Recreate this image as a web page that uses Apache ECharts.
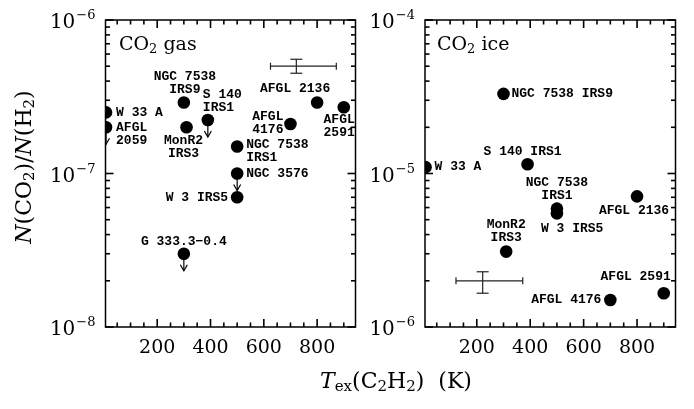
<!DOCTYPE html>
<html><head><meta charset="utf-8">
<script src="https://cdn.jsdelivr.net/npm/echarts@6/dist/echarts.min.js"></script>
<style>html,body{margin:0;padding:0;background:#fff}#c{width:694px;height:409px}</style>
</head><body><div id="c"></div>
<script>
// ---- data ----
const xMin = 6, xMax = 944;
const xMajorTicks = [200, 400, 600, 800];
const xMinorTicks = [50, 100, 150, 250, 300, 350, 450, 500, 550, 650, 700, 750, 850, 900];

const gasYRange = [1e-8, 1e-6];
const gasYMajor = [1e-8, 1e-7, 1e-6];
const gasYMinor = [2e-8, 3e-8, 4e-8, 5e-8, 6e-8, 7e-8, 8e-8, 9e-8, 2e-7, 3e-7, 4e-7, 5e-7, 6e-7, 7e-7, 8e-7, 9e-7];
const iceYRange = [1e-6, 1e-4];
const iceYMajor = [1e-6, 1e-5, 1e-4];
const iceYMinor = [2e-6, 3e-6, 4e-6, 5e-6, 6e-6, 7e-6, 8e-6, 9e-6, 2e-5, 3e-5, 4e-5, 5e-5, 6e-5, 7e-5, 8e-5, 9e-5];

const gasNames = ['W 33 A', 'AFGL\n2059', 'NGC 7538\nIRS9', 'S 140\nIRS1', 'MonR2\nIRS3', 'AFGL\n4176', 'AFGL 2136', 'AFGL\n2591', 'NGC 7538\nIRS1', 'NGC 3576', 'W 3 IRS5', 'G 333.3\u22120.4'];
const gasTex = [8, 8, 300, 390, 310, 700, 800, 900, 500, 500, 500, 300];
const gasAbund = [2.5e-7, 2.0e-7, 2.9e-7, 2.23e-7, 2.0e-7, 2.1e-7, 2.9e-7, 2.7e-7, 1.5e-7, 1.0e-7, 7.0e-8, 3.0e-8];
const gasUpperLimit = [0, 1, 0, 1, 0, 0, 0, 0, 0, 1, 0, 1];
const gasErrX = [625, 722, 872];      // low, centre, high
const gasErrY = [4.5e-7, 5e-7, 5.55e-7];

const iceNames = ['W 33 A', 'NGC 7538 IRS9', 'S 140 IRS1', 'NGC 7538\nIRS1', 'W 3 IRS5', 'AFGL 2136', 'MonR2\nIRS3', 'AFGL 4176', 'AFGL 2591'];
const iceTex = [8, 300, 390, 500, 500, 800, 310, 700, 900];
const iceAbund = [1.1e-5, 3.3e-5, 1.15e-5, 5.9e-6, 5.5e-6, 7.1e-6, 3.1e-6, 1.5e-6, 1.66e-6];
const iceUpperLimit = [0, 0, 0, 0, 0, 0, 0, 0, 0];
const iceErrX = [122, 222, 372];
const iceErrY = [1.66e-6, 2e-6, 2.29e-6];

// ---- label layout (pixel offsets from marker: dx, dy of first line centre, align) ----
const gasLabelLayout = [[10, 0, 'left'], [10, 0, 'left'], [1, -26, 'center'], [-5, -25, 'left'], [-3, 13.5, 'center'],
  [-7, -7, 'right'], [-22, -13.5, 'center'], [11, 12.5, 'right'], [9, -1.5, 'left'], [9, 0, 'left'], [-9, 0, 'right'], [0, -12.5, 'center']];
const iceLabelLayout = [[9, 0, 'left'], [8, 0, 'left'], [-5, -12.7, 'center'], [0, -26, 'center'], [-16, 15, 'left'],
  [-3, 14, 'center'], [0, -26.5, 'center'], [-9, 0, 'right'], [7, -16, 'right']];

const SERIF = '"DejaVu Serif", serif';
const MONO = '"Liberation Mono", monospace';
const LH = 13;
const BLACK = '#000';

function xAxisFor(gi) {
  return { gridIndex: gi, type: 'value', min: xMin, max: xMax, position: 'bottom', splitLine: { show: false },
    axisLine: { show: false }, axisTick: { show: false },
    axisLabel: { show: true, customValues: xMajorTicks, margin: 12, color: BLACK, fontFamily: SERIF, fontSize: 19 } };
}
function yAxisFor(gi, range, major) {
  return { gridIndex: gi, type: 'log', logBase: 10, min: range[0], max: range[1], position: 'left', splitLine: { show: false },
    axisLine: { show: false }, axisTick: { show: false },
    axisLabel: { show: true, customValues: major, margin: 10,
      formatter: v => '{b|10}{s|\u2212' + Math.round(-Math.log10(v)) + '}',
      rich: { b: { fontFamily: SERIF, fontSize: 20, color: BLACK, verticalAlign: 'middle', padding: [6, 0, 0, 0] },
              s: { fontFamily: SERIF, fontSize: 13, color: BLACK, verticalAlign: 'middle', padding: [0, 0, 8, 1] } } } };
}

// tick marks on all four sides, positioned through the axes' own scales
function tickSeries(idx, yRange, yMajor, yMinor) {
  const rows = [];
  xMajorTicks.forEach(v => rows.push([v, yRange[0], 1, 1]));
  xMinorTicks.forEach(v => rows.push([v, yRange[0], 1, 2]));
  yMajor.forEach(v => rows.push([xMin, v, 2, 1]));
  yMinor.forEach(v => rows.push([xMin, v, 2, 2]));
  return {
    type: 'custom', xAxisIndex: idx, yAxisIndex: idx, clip: false, silent: true, z: 5,
    data: rows,
    renderItem(params, api) {
      const len = api.value(3) === 1 ? 8 : 4.5;
      const st = { stroke: BLACK, lineWidth: 1.6 };
      let a, b;
      if (api.value(2) === 1) {
        a = api.coord([api.value(0), yRange[0]]);
        b = api.coord([api.value(0), yRange[1]]);
        return { type: 'group', children: [
          { type: 'line', shape: { x1: a[0], y1: a[1], x2: a[0], y2: a[1] - len }, style: st },
          { type: 'line', shape: { x1: b[0], y1: b[1], x2: b[0], y2: b[1] + len }, style: st }] };
      }
      a = api.coord([xMin, api.value(1)]);
      b = api.coord([xMax, api.value(1)]);
      return { type: 'group', children: [
        { type: 'line', shape: { x1: a[0], y1: a[1], x2: a[0] + len, y2: a[1] }, style: st },
        { type: 'line', shape: { x1: b[0], y1: b[1], x2: b[0] - len, y2: b[1] }, style: st }] };
    }
  };
}

function pointSeries(idx, names, tex, abund, limits, layout) {
  return {
    type: 'custom', xAxisIndex: idx, yAxisIndex: idx, clip: true, silent: true, z: 3,
    data: tex.map((t, i) => [t, abund[i]]),
    renderItem(params, api) {
      const i = params.dataIndex;
      const p = api.coord([api.value(0), api.value(1)]);
      const L = layout[i];
      const children = [{ type: 'circle', shape: { cx: p[0], cy: p[1], r: 6.3 }, style: { fill: BLACK } }];
      if (limits[i]) {
        children.push({ type: 'line', shape: { x1: p[0], y1: p[1], x2: p[0], y2: p[1] + 17 }, style: { stroke: BLACK, lineWidth: 1.2 } });
        children.push({ type: 'polyline', shape: { points: [[p[0] - 3.5, p[1] + 11], [p[0], p[1] + 17], [p[0] + 3.5, p[1] + 11]] },
          style: { stroke: BLACK, lineWidth: 1.2, fill: null } });
      }
      children.push({ type: 'text', x: p[0] + L[0], y: p[1] + L[1] - LH / 2,
        style: { text: names[i], fontFamily: MONO, fontWeight: 'bold', fontSize: 13, lineHeight: LH,
                 align: L[2], verticalAlign: 'top', fill: BLACK } });
      return { type: 'group', children };
    }
  };
}
function errSeries(idx, ex, ey) {
  return {
    type: 'custom', xAxisIndex: idx, yAxisIndex: idx, clip: true, silent: true, z: 3,
    data: [[ex[1], ey[1], ex[0], ex[2], ey[0], ey[2]]],
    renderItem(params, api) {
      const a = api.coord([api.value(2), api.value(1)]);
      const b = api.coord([api.value(3), api.value(1)]);
      const t = api.coord([api.value(0), api.value(5)]);
      const d = api.coord([api.value(0), api.value(4)]);
      const st = { stroke: '#222', lineWidth: 1.2 };
      const ln = (x1, y1, x2, y2) => ({ type: 'line', shape: { x1, y1, x2, y2 }, style: st });
      return { type: 'group', children: [
        ln(a[0], a[1], b[0], b[1]), ln(a[0], a[1] - 3.5, a[0], a[1] + 3.5), ln(b[0], b[1] - 3.5, b[0], b[1] + 3.5),
        ln(t[0], t[1], d[0], d[1]), ln(t[0] - 6, t[1], t[0] + 6, t[1]), ln(d[0] - 6, d[1], d[0] + 6, d[1])
      ] };
    }
  };
}

function richSet(size) {
  return {
    r: { fontFamily: SERIF, fontSize: size, fill: BLACK, verticalAlign: 'middle' },
    i: { fontFamily: SERIF, fontSize: size, fontStyle: 'italic', fill: BLACK, verticalAlign: 'middle' },
    sub: { fontFamily: SERIF, fontSize: Math.round(size * 0.68), fill: BLACK, verticalAlign: 'middle', padding: [Math.round(size * 0.5), 0, 0, 0] }
  };
}

const chart = echarts.init(document.getElementById('c'), null, { renderer: 'canvas' });
chart.setOption({
  backgroundColor: '#fff',
  animation: false,
  grid: [
    { left: 105.5, top: 20, width: 250, height: 307, show: true, borderColor: BLACK, borderWidth: 1.5 },
    { left: 425, top: 20, width: 250.5, height: 307, show: true, borderColor: BLACK, borderWidth: 1.5 }
  ],
  xAxis: [xAxisFor(0), xAxisFor(1)],
  yAxis: [yAxisFor(0, gasYRange, gasYMajor), yAxisFor(1, iceYRange, iceYMajor)],
  series: [
    tickSeries(0, gasYRange, gasYMajor, gasYMinor),
    tickSeries(1, iceYRange, iceYMajor, iceYMinor),
    errSeries(0, gasErrX, gasErrY),
    pointSeries(0, gasNames, gasTex, gasAbund, gasUpperLimit, gasLabelLayout),
    errSeries(1, iceErrX, iceErrY),
    pointSeries(1, iceNames, iceTex, iceAbund, iceUpperLimit, iceLabelLayout)
  ],
  graphic: [
    { type: 'text', x: 119, y: 45, style: { text: '{r|CO}{sub|2}{r| gas}', rich: richSet(19), verticalAlign: 'middle' } },
    { type: 'text', x: 437, y: 45, style: { text: '{r|CO}{sub|2}{r| ice}', rich: richSet(19), verticalAlign: 'middle' } },
    { type: 'text', x: 396, y: 382, style: { text: '{i|T}{sub|ex}{r|(C}{sub|2}{r|H}{sub|2}{r|)  (K)}', rich: richSet(22), align: 'center', verticalAlign: 'middle' } },
    { type: 'text', x: 25, y: 167, rotation: Math.PI / 2,
      style: { text: '{i|N}{r|(CO}{sub|2}{r|)/}{i|N}{r|(H}{sub|2}{r|)}', rich: richSet(22), align: 'center', verticalAlign: 'middle' } }
  ]
});
</script></body></html>
